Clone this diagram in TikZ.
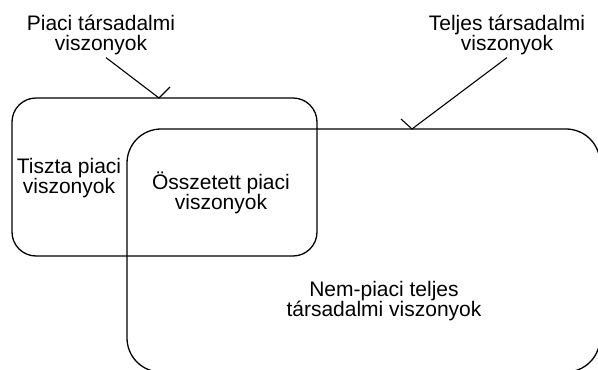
\documentclass[tikz,border=0pt]{standalone}
\usepackage{fontspec}
\setmainfont{Liberation Sans}
\usetikzlibrary{positioning}

\begin{document}
\begin{tikzpicture}[
    x=1pt, y=-1pt,
    setbox/.style={rectangle, draw, line width=1.3pt, anchor=north west, inner sep=0pt, outer sep=0pt},
    txt/.style={align=center, font=\fontsize{21}{20}\selectfont, inner sep=0pt},
    callout/.style={draw, line width=1.1pt}
]
    \useasboundingbox (0,0) rectangle (598,370);

    % the two sets
    \node[setbox, rounded corners=24pt, minimum width=305pt, minimum height=158pt] (piaci) at (12,98) {};
    \node[setbox, rounded corners=34pt, minimum width=473pt, minimum height=243pt] (teljes) at (127,129) {};

    \node[txt] (tiszta) at (69,178) {Tiszta piaci\\viszonyok};
    \node[txt] (osszetett) at (221,193) {Összetett piaci\\viszonyok};
    \node[txt] (nempiaci) at (384,301) {Nem-piaci teljes\\társadalmi viszonyok};

    % callouts
    \node[txt] (piacitxt) at (101,34.5) {Piaci társadalmi\\viszonyok};
    \node[txt] (teljestxt) at (507,34.5) {Teljes társadalmi\\viszonyok};
    \coordinate (piacitip) at (159,98);
    \coordinate (teljestip) at (412,129);

    \draw[callout] ([xshift=5pt,yshift=-3pt]piacitxt.south) -- (piacitip) -- ++(11,-11);
    \draw[callout] ([yshift=-3pt]teljestxt.south) -- (teljestip) -- ++(-11,-10);
\end{tikzpicture}
\end{document}
